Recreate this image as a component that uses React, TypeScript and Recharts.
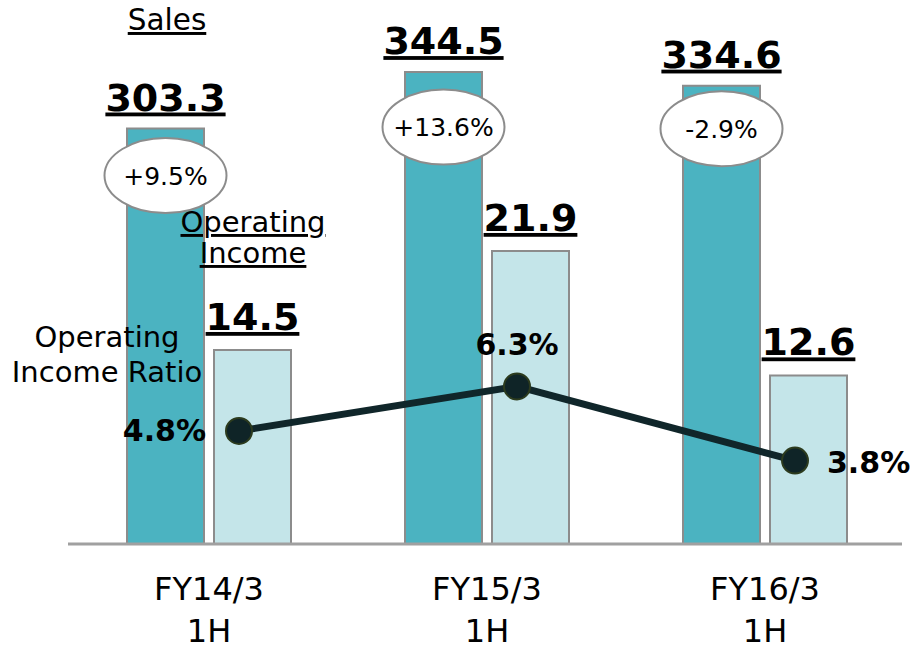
import React from "react";
import { ComposedChart, Bar, Line, XAxis, YAxis, LabelList } from "recharts";

const categories = ["FY14/3 1H", "FY15/3 1H", "FY16/3 1H"];
const sales = [303.3, 344.5, 334.6];
const operatingIncome = [14.5, 21.9, 12.6];
const incomeRatio = [4.8, 6.3, 3.8];
const salesGrowth = ["+9.5%", "+13.6%", "-2.9%"];

const data = categories.map((c, i) => ({
  name: c,
  sales: sales[i],
  oi: operatingIncome[i],
  ratio: incomeRatio[i],
  growth: salesGrowth[i],
}));

const FONT = "'DejaVu Sans', Verdana, sans-serif";
const BADGE_DY = [47, 55, 43];
const RATIO_POS = ["left", "top", "right"];

const SalesLabel = (props: any) => {
  const { x, y, width, value } = props;
  return (
    <text
      x={x + width / 2}
      y={y - 18}
      textAnchor="middle"
      fontFamily={FONT}
      fontWeight="bold"
      fontSize={38}
      fill="#000"
      textDecoration="underline"
    >
      {Number(value).toFixed(1)}
    </text>
  );
};

const BadgeLabel = (props: any) => {
  const { x, y, width, index } = props;
  const cx = x + width / 2;
  const cy = y + BADGE_DY[index];
  return (
    <g>
      <ellipse cx={cx} cy={cy} rx={61} ry={37.5} fill="#fff" stroke="#8c8c8c" strokeWidth={2} />
      <text
        x={cx}
        y={cy + 9}
        textAnchor="middle"
        fontFamily={FONT}
        fontSize={25}
        fill="#000"
      >
        {salesGrowth[index]}
      </text>
    </g>
  );
};

const OiLabel = (props: any) => {
  const { x, y, width, value } = props;
  return (
    <text
      x={x + width / 2}
      y={y - 20}
      textAnchor="middle"
      fontFamily={FONT}
      fontWeight="bold"
      fontSize={38}
      fill="#000"
      textDecoration="underline"
    >
      {Number(value).toFixed(1)}
    </text>
  );
};

const RatioLabel = (props: any) => {
  const { x, y, value, index } = props;
  const pos = RATIO_POS[index];
  let tx = x;
  let ty = y;
  let anchor: any = "middle";
  if (pos === "left") {
    tx = x - 33;
    ty = y + 10;
    anchor = "end";
  } else if (pos === "right") {
    tx = x + 32;
    ty = y + 12;
    anchor = "start";
  } else {
    tx = x;
    ty = y - 31;
  }
  return (
    <text x={tx} y={ty} textAnchor={anchor} fontFamily={FONT} fontWeight="bold" fontSize={30} fill="#000">
      {Number(value).toFixed(1)}%
    </text>
  );
};

const CategoryTick = (props: any) => {
  const { x, y, payload } = props;
  const [a, b] = String(payload.value).split(" ");
  return (
    <g>
      <text x={x} y={y + 56} textAnchor="middle" fontFamily={FONT} fontSize={32} fill="#000">
        {a}
      </text>
      <text x={x} y={y + 98} textAnchor="middle" fontFamily={FONT} fontSize={32} fill="#000">
        {b}
      </text>
    </g>
  );
};

export default function App() {
  return (
    <div style={{ position: "absolute", left: 0, top: 0, width: 915, height: 649, background: "#fff" }}>
      <ComposedChart
        width={915}
        height={649}
        data={data}
        margin={{ top: 44, right: 13, left: 68, bottom: 0 }}
        barSize={77}
        barGap={10}
      >
        <XAxis
          dataKey="name"
          height={105}
          padding={{ left: 2, right: -2 }}
          axisLine={{ stroke: "#a0a0a0", strokeWidth: 3 }}
          tickLine={false}
          tickSize={0}
          tickMargin={0}
          tick={<CategoryTick />}
          interval={0}
        />
        <XAxis dataKey="name" xAxisId="line" hide padding={{ left: 32, right: -32 }} />
        <YAxis yAxisId="sales" hide domain={[0, 365]} />
        <YAxis yAxisId="oi" hide domain={[0, 37.37]} />
        <YAxis yAxisId="ratio" hide domain={[0.99, 17.84]} />
        <Bar dataKey="sales" yAxisId="sales" fill="#4bb3c1" stroke="#8c8c8c" strokeWidth={2} isAnimationActive={false}>
          <LabelList dataKey="sales" content={<SalesLabel />} />
          <LabelList dataKey="growth" content={<BadgeLabel />} />
        </Bar>
        <Bar dataKey="oi" yAxisId="oi" fill="#c4e5e9" stroke="#8c8c8c" strokeWidth={2} isAnimationActive={false}>
          <LabelList dataKey="oi" content={<OiLabel />} />
        </Bar>
        <Line
          dataKey="ratio"
          xAxisId="line"
          yAxisId="ratio"
          stroke="#10262a"
          strokeWidth={7}
          dot={{ r: 13, fill: "#0f2427", stroke: "#2c3b1e", strokeWidth: 2 }}
          isAnimationActive={false}
        >
          <LabelList dataKey="ratio" content={<RatioLabel />} />
        </Line>
      </ComposedChart>
      <svg
        width={915}
        height={649}
        style={{ position: "absolute", left: 0, top: 0, pointerEvents: "none" }}
      >
        <text x={167} y={30} textAnchor="middle" fontFamily={FONT} fontSize={29.5} fill="#000" textDecoration="underline">
          Sales
        </text>
        <text x={253} y={232} textAnchor="middle" fontFamily={FONT} fontSize={29} fill="#000" textDecoration="underline">
          Operating
        </text>
        <text x={253} y={263} textAnchor="middle" fontFamily={FONT} fontSize={29} fill="#000" textDecoration="underline">
          Income
        </text>
        <text x={107} y={347} textAnchor="middle" fontFamily={FONT} fontSize={29} fill="#000">
          Operating
        </text>
        <text x={107} y={382} textAnchor="middle" fontFamily={FONT} fontSize={29} fill="#000">
          Income Ratio
        </text>
      </svg>
    </div>
  );
}
